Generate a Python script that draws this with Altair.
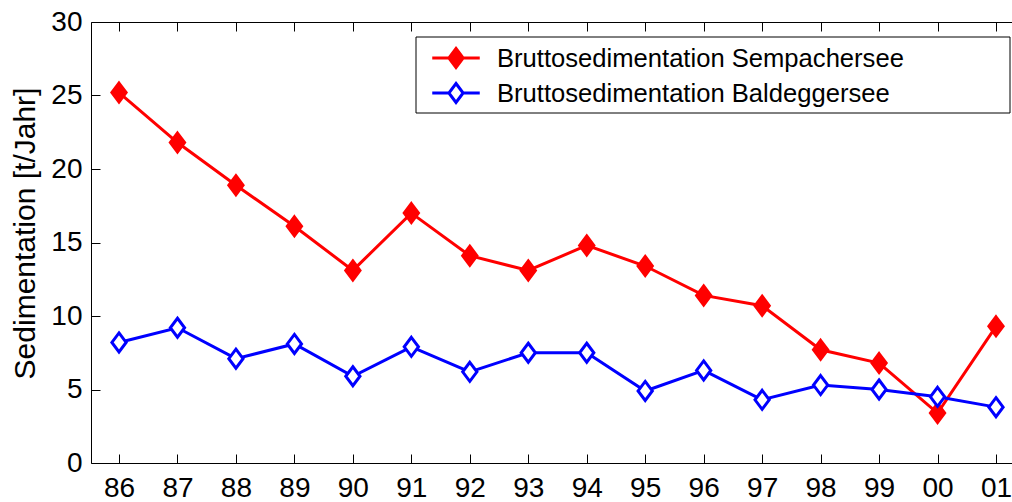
import altair as alt
import pandas as pd

# ---- data ----
years = ["86", "87", "88", "89", "90", "91", "92", "93", "94", "95",
         "96", "97", "98", "99", "00", "01"]
sempach = [25.2, 21.8, 18.9, 16.1, 13.1, 17.0, 14.1, 13.1, 14.8, 13.4,
           11.4, 10.7, 7.7, 6.8, 3.4, 9.3]
baldegg = [8.2, 9.2, 7.1, 8.1, 5.9, 7.9, 6.2, 7.5, 7.5, 4.9,
           6.3, 4.3, 5.3, 5.0, 4.5, 3.8]
series_names = ["Bruttosedimentation Sempachersee",
                "Bruttosedimentation Baldeggersee"]
line_colors = ["#ff0000", "#0000ff"]
fill_colors = ["#ff0000", "#ffffff"]
y_ticks = [0, 5, 10, 15, 20, 25, 30]
y_title = "Sedimentation [t/Jahr]"

rows = []
for name, vals in zip(series_names, [sempach, baldegg]):
    for i, (yr, v) in enumerate(zip(years, vals)):
        rows.append({"Jahr": yr, "idx": i, "Serie": name, "Wert": v})
df = pd.DataFrame(rows)

# plot frame runs past the right edge of the picture, as in the reference
W, H = 923, 441
FONT = "Liberation Sans"
TICK = 9

x_scale = alt.Scale(type="point", domain=years, padding=0.3934, align=0.6087)
y_scale = alt.Scale(domain=[0, 30], nice=False, zero=True)
stroke_scale = alt.Scale(domain=series_names, range=line_colors)
fill_scale = alt.Scale(domain=series_names, range=fill_colors)

DIAMOND = "M0,-1L0.75,0L0,1L-0.75,0Z"
LEG_SYM = "M-2.5,0L-0.75,0M0.75,0L2.5,0M0,-1L0.75,0L0,1L-0.75,0Z"

# ticks pointing inward: axis line moved TICK px into the plot, ticks point out to the frame
x_axis = alt.Axis(title=None, labelFontSize=28, labelPadding=11, tickSize=TICK,
                  offset=-TICK, domain=False, tickColor="black",
                  labelColor="black", grid=False, labelAngle=0)
x_axis_top = alt.Axis(title=None, orient="top", labels=False, tickSize=TICK,
                      offset=-TICK, domain=False, tickColor="black",
                      grid=False)
y_axis = alt.Axis(title=y_title, values=y_ticks, labelFontSize=28,
                  labelPadding=9, tickSize=TICK, offset=-TICK, domain=False,
                  tickColor="black", labelColor="black", grid=False,
                  titleFontSize=30, titleFontWeight="normal",
                  titleColor="black", titlePadding=10, titleY=211)

lines = alt.Chart(df).mark_line(strokeWidth=3).encode(
    x=alt.X("Jahr:O", scale=x_scale, axis=x_axis),
    y=alt.Y("Wert:Q", scale=y_scale, axis=y_axis),
    stroke=alt.Stroke("Serie:N", scale=stroke_scale, legend=None),
    order=alt.Order("idx:Q"),
)

points = alt.Chart(df).mark_point(shape=DIAMOND, size=361, strokeWidth=3,
                                  opacity=1).encode(
    x=alt.X("Jahr:O", scale=x_scale, axis=x_axis_top),
    y=alt.Y("Wert:Q", scale=y_scale, axis=y_axis),
    stroke=alt.Stroke("Serie:N", scale=stroke_scale, legend=None),
    fill=alt.Fill("Serie:N", scale=fill_scale, legend=None),
)

one = pd.DataFrame({"a": [0]})
legend_box = alt.Chart(one).mark_rect(
    fill="white", stroke="black", strokeWidth=1).encode(
    x=alt.value(325), x2=alt.value(919), y=alt.value(15), y2=alt.value(91))

legend_layers = [legend_box]
for i, name in enumerate(series_names):
    row_y = 36 + 35 * i
    ldf = pd.DataFrame({"Serie": [name]})
    legend_layers.append(
        alt.Chart(ldf).mark_point(shape=LEG_SYM, size=361, strokeWidth=3,
                                  opacity=1, stroke=line_colors[i],
                                  fill=fill_colors[i]).encode(
            x=alt.value(365), y=alt.value(row_y)))
    legend_layers.append(
        alt.Chart(ldf).mark_text(align="left", baseline="middle",
                                 fontSize=25.6, font=FONT,
                                 color="black").encode(
            text="Serie:N", x=alt.value(406), y=alt.value(row_y + 1)))

chart = alt.layer(
    lines, points, *legend_layers
).resolve_axis(x="independent").properties(
    width=W, height=H,
    padding={"left": 91, "top": 22, "right": -2, "bottom": 39},
    autosize=alt.AutoSizeParams(type="none"),
    background="white",
).configure(font=FONT).configure_view(stroke="black", strokeWidth=1)

chart.save("out.html", embed_options={"renderer": "svg", "actions": False})
